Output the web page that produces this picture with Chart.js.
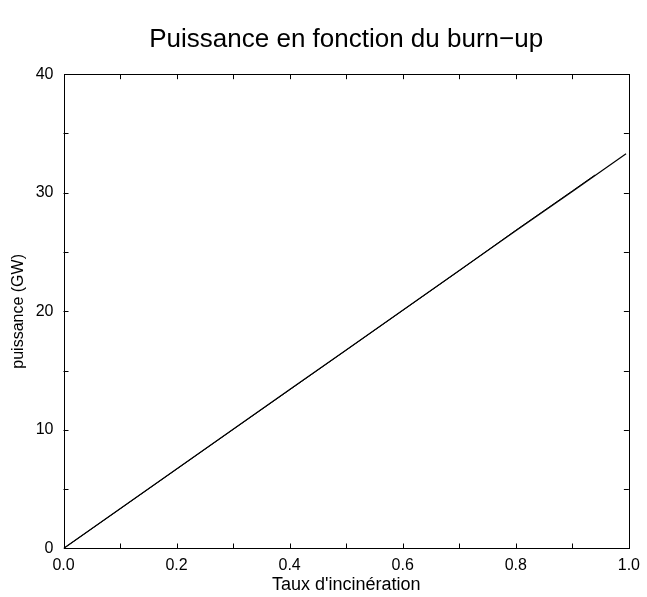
<!DOCTYPE html>
<html>
<head>
<meta charset="utf-8">
<script src="https://cdn.jsdelivr.net/npm/chart.js@4/dist/chart.umd.min.js"></script>
<style>
html,body{margin:0;padding:0;background:#fff;}
#wrap{width:647px;height:597px;}
</style>
</head>
<body>
<div id="wrap"><canvas id="c" width="647" height="597"></canvas></div>
<script>
// Data
const burnup = [0.0, 0.1, 0.2, 0.3, 0.4, 0.5, 0.6, 0.7, 0.8, 0.9, 0.995];
const puissanceA = [0, 3.35, 6.70, 10.05, 13.40, 16.75, 20.10, 23.45, 26.80, 30.10, 33.30];
const burnupB = [0.0, 0.1, 0.2, 0.3, 0.4, 0.5, 0.6, 0.7, 0.8, 0.9, 0.94];
const puissanceB = [0, 3.34, 6.69, 10.04, 13.38, 16.73, 20.08, 23.43, 26.84, 30.16, 31.50];
const xTickLabels = ["0.0", "0.2", "0.4", "0.6", "0.8", "1.0"];
const yTickLabels = ["0", "10", "20", "30", "40"];

const FONT = "'Liberation Sans', Arial, Helvetica, sans-serif";

const frameTicks = {
  id: 'frameTicks',
  afterDatasetsDraw(chart) {
    const {ctx, chartArea: a, scales: {x, y}} = chart;
    ctx.save();
    ctx.strokeStyle = '#000';
    ctx.lineWidth = 1;
    ctx.strokeRect(Math.round(a.left) + 0.5, Math.round(a.top) + 0.5,
                   Math.round(a.right - a.left), Math.round(a.bottom - a.top));
    const L = 5;
    ctx.beginPath();
    for (let i = 1; i < 10; i++) {
      const px = Math.round(x.getPixelForValue(i / 10)) + 0.5;
      ctx.moveTo(px, a.bottom); ctx.lineTo(px, a.bottom - L);
      ctx.moveTo(px, a.top); ctx.lineTo(px, a.top + L);
    }
    for (let v = 5; v < 40; v += 5) {
      const py = Math.round(y.getPixelForValue(v)) + 0.5;
      ctx.moveTo(a.left, py); ctx.lineTo(a.left + L, py);
      ctx.moveTo(a.right, py); ctx.lineTo(a.right - L, py);
    }
    ctx.stroke();
    ctx.restore();
  }
};

new Chart(document.getElementById('c'), {
  type: 'line',
  data: {
    datasets: [
      {
        label: 'A',
        data: burnup.map((b, i) => ({x: b, y: puissanceA[i]})),
        borderColor: '#000', borderWidth: 1.2, pointRadius: 0, tension: 0, fill: false
      },
      {
        label: 'B',
        data: burnupB.map((b, i) => ({x: b, y: puissanceB[i]})),
        borderColor: '#000', borderWidth: 1, pointRadius: 0, tension: 0, fill: false
      }
    ]
  },
  options: {
    responsive: false,
    animation: false,
    devicePixelRatio: 1,
    layout: {padding: {top: 0, right: 14, bottom: 0, left: 0}},
    plugins: {
      legend: {display: false},
      tooltip: {enabled: false},
      title: {
        display: true,
        fullSize: false,
        text: 'Puissance en fonction du burn\u2212up',
        color: '#000',
        font: {family: FONT, size: 26, weight: 'normal'},
        padding: {top: 24, bottom: 19}
      }
    },
    scales: {
      x: {
        type: 'linear', min: 0, max: 1,
        grid: {display: false, drawTicks: false},
        border: {display: false},
        afterFit(s) { s.height = 48.5; },
        afterBuildTicks(s) { s.ticks = xTickLabels.map(t => ({value: parseFloat(t)})); },
        ticks: {
          autoSkip: false, maxRotation: 0, padding: 7, color: '#000',
          font: {family: FONT, size: 16},
          callback: (v) => xTickLabels.find(t => Math.abs(parseFloat(t) - v) < 1e-6) || ''
        },
        title: {
          display: true, text: "Taux d'incinération", color: '#000',
          font: {family: FONT, size: 18}, padding: {top: 0, bottom: 1}
        }
      },
      y: {
        type: 'linear', min: 0, max: 40,
        grid: {display: false, drawTicks: false},
        border: {display: false},
        afterFit(s) { s.width = 63.5; },
        afterBuildTicks(s) { s.ticks = yTickLabels.map(t => ({value: parseFloat(t)})); },
        ticks: {
          padding: 10, color: '#000',
          font: {family: FONT, size: 16},
          callback: (v) => String(v)
        },
        title: {
          display: true, text: 'puissance (GW)', color: '#000',
          font: {family: FONT, size: 16}, padding: {top: 9, bottom: 0}
        }
      }
    }
  },
  plugins: [frameTicks]
});
</script>
</body>
</html>
